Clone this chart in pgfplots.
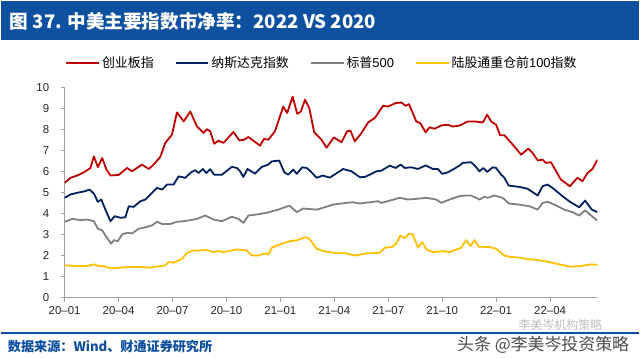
\documentclass[border=0pt]{standalone}
\usepackage{pgfplots}
\pgfplotsset{compat=1.18}
\usepackage{pgfplotstable}
\usepackage{fontspec}
\setmainfont{Liberation Sans}
\newfontfamily\cjk{Noto Sans CJK SC}
\definecolor{banner}{RGB}{14,80,160}
\definecolor{cred}{RGB}{192,0,0}
\definecolor{cnavy}{RGB}{0,32,96}
\definecolor{cgray}{RGB}{128,128,128}
\definecolor{cyellow}{RGB}{255,192,0}
\definecolor{axgray}{RGB}{160,160,160}

\pgfplotstableread{
m v
0 5.45
0.33 5.69
0.70 5.80
1.07 5.95
1.44 6.16
1.63 6.71
1.85 6.20
2.09 6.63
2.33 6.08
2.55 5.80
3.01 5.83
3.48 6.16
3.75 6.00
4.31 6.32
4.68 6.11
4.95 6.32
5.32 6.68
5.60 7.35
5.97 7.74
6.25 8.80
6.62 8.37
6.99 8.84
7.36 8.13
7.73 7.82
7.91 8.00
8.10 7.90
8.32 7.31
8.56 7.45
8.84 7.35
9.39 7.87
9.72 7.47
9.98 7.50
10.22 7.63
10.87 7.22
11.09 7.54
11.33 7.50
11.70 7.90
12.16 9.08
12.38 8.77
12.68 9.55
12.94 8.73
13.14 8.84
13.37 9.40
13.61 9.00
13.88 7.85
14.29 7.50
14.57 7.12
14.97 7.61
15.40 7.38
15.71 7.90
15.90 7.93
16.14 7.42
16.51 7.82
16.88 8.32
17.25 8.53
17.71 9.11
17.99 9.08
18.41 9.24
18.73 9.27
18.97 9.11
19.15 9.19
19.56 8.37
19.78 8.29
20.08 7.85
20.30 8.09
20.58 8.02
20.95 8.18
21.31 8.21
21.59 8.13
21.96 8.17
22.42 8.37
22.80 8.37
23.26 8.32
23.50 8.69
23.72 8.37
24.00 8.21
24.22 7.71
24.46 7.71
24.92 7.27
25.39 6.79
25.79 7.08
26.03 6.87
26.31 6.52
26.58 6.55
26.77 6.40
27.05 6.43
27.60 5.61
28.10 5.29
28.52 5.69
28.80 5.53
29.08 5.92
29.36 6.11
29.63 6.55
}\tred

\pgfplotstableread{
m v
0 4.74
0.33 4.90
0.70 4.98
1.07 5.04
1.40 5.13
1.63 4.94
1.85 4.55
2.04 4.66
2.27 4.18
2.55 3.63
2.79 3.87
3.11 3.79
3.38 3.82
3.57 4.34
3.84 4.31
4.22 4.58
4.49 4.66
4.77 4.90
5.14 5.21
5.42 5.13
5.70 5.37
6.06 5.37
6.34 5.76
6.71 5.69
7.03 5.95
7.26 6.05
7.45 5.92
7.69 6.11
7.88 5.92
8.10 6.10
8.32 5.84
8.75 5.84
9.30 6.21
9.58 6.16
9.76 6.00
9.94 5.73
10.17 6.11
10.59 5.89
10.97 6.21
11.33 6.32
11.52 6.47
11.94 6.51
12.22 5.95
12.44 5.84
12.72 6.08
12.91 5.88
13.22 6.19
13.46 6.16
13.68 6.00
14.02 5.69
14.35 5.80
14.75 5.70
15.49 6.11
15.96 6.00
16.42 5.72
16.69 5.73
17.07 5.88
17.34 6.00
17.62 6.03
18.08 6.27
18.41 6.16
18.69 6.32
18.91 6.16
19.28 6.19
19.65 6.11
20.08 6.28
20.48 6.11
20.76 6.11
21.00 5.88
21.31 5.95
21.69 6.13
21.96 6.27
22.15 6.40
22.61 6.43
22.85 6.24
23.07 6.00
23.29 6.16
23.50 5.97
23.81 6.19
24.00 6.16
24.28 5.84
24.46 5.69
24.70 5.32
25.29 5.26
25.75 5.17
26.31 4.85
26.58 5.29
26.86 5.37
27.14 5.21
27.69 4.82
28.06 4.58
28.62 4.29
28.95 4.61
29.32 4.18
29.63 4.06
}\tnavy

\pgfplotstableread{
m v
0 3.60
0.43 3.74
0.89 3.68
1.26 3.71
1.63 3.63
1.85 3.27
2.09 3.20
2.27 2.95
2.59 2.56
2.73 2.73
2.96 2.68
3.20 3.00
3.48 3.08
3.75 3.05
4.12 3.27
4.59 3.36
4.86 3.43
5.14 3.60
5.42 3.50
5.88 3.50
6.25 3.60
6.62 3.63
6.99 3.68
7.36 3.74
7.82 3.90
8.28 3.71
8.75 3.63
9.30 3.84
9.67 3.74
9.94 3.55
10.22 3.90
10.69 3.95
11.24 4.03
11.89 4.18
12.50 4.37
12.91 4.06
13.27 4.23
14.02 4.18
14.38 4.27
14.94 4.42
15.68 4.50
16.05 4.53
16.42 4.47
17.43 4.58
17.62 4.50
18.18 4.63
18.64 4.74
19.10 4.66
19.56 4.69
20.12 4.74
20.67 4.66
20.95 4.50
21.41 4.66
21.96 4.82
22.33 4.85
22.61 4.85
23.07 4.66
23.35 4.79
23.53 4.74
23.90 4.85
24.37 4.74
24.70 4.47
25.29 4.42
25.85 4.34
26.31 4.18
26.58 4.50
26.86 4.55
27.23 4.42
27.79 4.18
28.25 4.06
28.62 3.90
28.95 4.15
29.32 3.87
29.63 3.66
}\tgray

\pgfplotstableread{
m v
0 1.53
0.70 1.50
1.26 1.50
1.63 1.58
1.90 1.50
2.18 1.50
2.55 1.39
3.01 1.42
3.48 1.45
4.22 1.45
4.77 1.42
5.32 1.50
5.60 1.53
5.78 1.69
6.06 1.66
6.53 1.85
6.81 2.13
7.17 2.24
7.45 2.24
7.91 2.26
8.28 2.16
8.56 2.21
8.84 2.16
9.58 2.29
10.13 2.24
10.41 2.00
10.78 2.00
11.15 2.10
11.33 2.05
11.52 2.37
11.98 2.53
12.53 2.68
12.91 2.72
13.37 2.87
13.61 2.80
14.02 2.32
14.38 2.21
14.94 2.13
15.68 2.10
16.14 2.00
16.79 2.10
17.53 2.13
17.80 2.37
18.18 2.40
18.45 2.57
18.67 2.95
18.91 2.82
19.15 3.03
19.37 3.00
19.65 2.37
19.89 2.64
20.12 2.29
20.48 2.16
21.04 2.21
21.41 2.16
22.06 2.37
22.33 2.73
22.57 2.45
22.80 2.73
23.03 2.42
23.63 2.40
24.00 2.32
24.46 2.00
24.74 1.94
25.29 1.90
25.85 1.82
26.40 1.78
26.95 1.69
27.51 1.58
28.16 1.47
28.71 1.50
29.27 1.58
29.63 1.55
}\tyellow

\begin{document}
\begin{tikzpicture}[x=1bp,y=1bp]
\fill[white] (0,0) rectangle (640,-358);
\fill[banner] (0,-1) rectangle (640,-40);
\node[anchor=west, text=white, inner sep=0pt, font=\cjk\bfseries\fontsize{18.7}{20}\selectfont] at (9,-21) {图 37. 中美主要指数市净率：2022 VS 2020};
\begin{axis}[
  at={(64bp,-298.3bp)}, anchor=south west,
  scale only axis, width=534bp, height=211bp,
  xmin=0, xmax=29.63, ymin=0, ymax=10,
  axis x line*=bottom, axis y line*=left,
  axis line style={axgray, line width=0.8bp},
  tick align=outside, major tick length=4bp,
  tick style={axgray, line width=0.8bp},
  xtick={0,3,6,9,12,15,18,21,24,27},
  xticklabels={20--01,20--04,20--07,20--10,21--01,21--04,21--07,21--10,22--01,22--04},
  ytick={0,1,...,10},
  tick label style={font=\fontsize{11.5}{12}\selectfont, text=black!85},
  yticklabel style={xshift=-8bp},
  xticklabel style={yshift=-1bp},
  /pgf/number format/assume math mode=true,
  legend columns=4,
  legend style={at={(0.483,1.115)}, anchor=center, draw=none, fill=none,
    font=\fontsize{13}{14}\selectfont,
    /tikz/every even column/.append style={column sep=19bp}},
  legend image code/.code={\draw[#1] (0bp,0bp) -- (33bp,0bp);},
  every axis plot/.append style={line width=1.8bp, line join=round},
]
\addplot[cred] table[x=m,y=v] {\tred};
\addlegendentry{{\cjk 创业板指}}
\addplot[cnavy] table[x=m,y=v] {\tnavy};
\addlegendentry{{\cjk 纳斯达克指数}}
\addplot[cgray] table[x=m,y=v] {\tgray};
\addlegendentry{{\cjk 标普}500}
\addplot[cyellow] table[x=m,y=v] {\tyellow};
\addlegendentry{{\cjk 陆股通重仓前}100{\cjk 指数}}
\end{axis}
\draw[banner, line width=1.5bp] (0,-334) -- (640,-334);
\node[anchor=west, text=banner, inner sep=0pt, font=\cjk\bfseries\fontsize{13.2}{14}\selectfont] at (7,-347) {数据来源：Wind、财通证券研究所};
\node[anchor=east, text=black!25, inner sep=0pt, font=\cjk\fontsize{12}{13}\selectfont] at (603,-326) {李美岑机构策略};
\node[anchor=east, text=black!70, inner sep=0pt, font=\cjk\fontsize{17}{18}\selectfont] at (630,-346) {头条 @李美岑投资策略};
\end{tikzpicture}
\end{document}
